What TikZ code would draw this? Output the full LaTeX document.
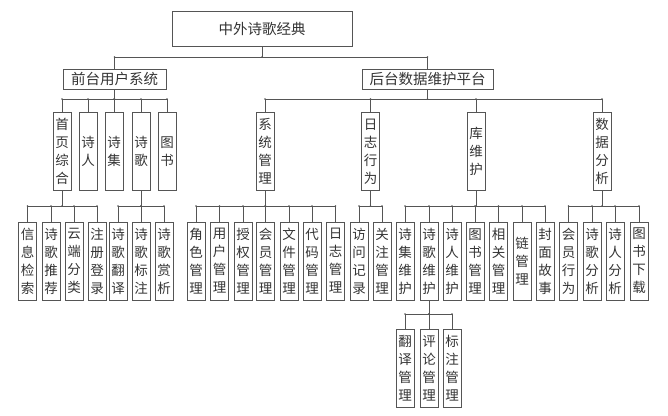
\documentclass[tikz,border=0pt]{standalone}
\usepackage{fontspec}
\newfontfamily\cjk{Noto Sans CJK SC}
\definecolor{ln}{HTML}{555555}
\definecolor{tx}{HTML}{333333}
\tikzset{
  bx/.style={draw=ln, line width=0.6pt, inner sep=0pt, text=tx, align=center},
  topbox/.style={bx, font=\cjk\fontsize{14.5}{17}\selectfont},
  vbox/.style={bx, minimum width=18pt, minimum height=78pt, font=\cjk\fontsize{13.5}{18}\selectfont},
  conn/.style={draw=ln, line width=0.6pt},
}
\newcommand\busline[5]{%
  \coordinate (busy) at (0,#2);
  \draw[conn] (#1.south) -- (#1.south |- busy);
  \fill[ln] (#1.south |- busy) circle (0.9pt);
  \draw[conn] (#3.north |- busy) -- (#4.north |- busy);
  \foreach \c in {#5} {
    \draw[conn] (\c.north) -- (\c.north |- busy);
    \fill[ln] (\c.north |- busy) circle (0.9pt);
  }%
}
\begin{document}
\begin{tikzpicture}[x=1pt,y=-1pt]
\useasboundingbox (0,0) rectangle (668,415);
% root
\node[topbox, minimum width=180pt, minimum height=35pt] (root) at (262,28.5) {中外诗歌经典};
\node[topbox, minimum width=103pt, minimum height=20pt] (fq) at (114.5,79) {前台用户系统};
\node[topbox, minimum width=131pt, minimum height=20pt] (ht) at (427.5,79) {后台数据维护平台};
% level 2
\node[vbox] (sy) at (62,151.5) {首\\页\\综\\合};
\node[vbox] (sr) at (88,151.5) {诗\\人};
\node[vbox] (sj) at (114,151.5) {诗\\集};
\node[vbox] (sg) at (141,151.5) {诗\\歌};
\node[vbox] (ts) at (167,151.5) {图\\书};
\node[vbox] (xt) at (265,151.5) {系\\统\\管\\理};
\node[vbox] (rz) at (370.5,151.5) {日\\志\\行\\为};
\node[vbox] (kw) at (476,151.5) {库\\维\\护};
\node[vbox] (sf) at (602,151.5) {数\\据\\分\\析};
% level 3
\node[vbox] (a1) at (27.5,261) {信\\息\\检\\索};
\node[vbox] (a2) at (51,261) {诗\\歌\\推\\荐};
\node[vbox] (a3) at (74,261) {云\\端\\分\\类};
\node[vbox] (a4) at (97,261) {注\\册\\登\\录};
\node[vbox] (b1) at (118,261) {诗\\歌\\翻\\译};
\node[vbox] (b2) at (141,261) {诗\\歌\\标\\注};
\node[vbox] (b3) at (164,261) {诗\\歌\\赏\\析};
\node[vbox] (c1) at (196,261) {角\\色\\管\\理};
\node[vbox] (c2) at (219.5,261) {用\\户\\管\\理};
\node[vbox] (c3) at (243,261) {授\\权\\管\\理};
\node[vbox] (c4) at (265.5,261) {会\\员\\管\\理};
\node[vbox] (c5) at (289,261) {文\\件\\管\\理};
\node[vbox] (c6) at (312,261) {代\\码\\管\\理};
\node[vbox] (c7) at (335.5,261) {日\\志\\管\\理};
\node[vbox] (d1) at (359,261) {访\\问\\记\\录};
\node[vbox] (d2) at (382,261) {关\\注\\管\\理};
\node[vbox] (e1) at (405,261) {诗\\集\\维\\护};
\node[vbox] (e2) at (429,261) {诗\\歌\\维\\护};
\node[vbox] (e3) at (452,261) {诗\\人\\维\\护};
\node[vbox] (e4) at (475,261) {图\\书\\管\\理};
\node[vbox] (e5) at (498.5,261) {相\\关\\管\\理};
\node[vbox] (e6) at (522,261) {链\\管\\理};
\node[vbox] (e7) at (545,261) {封\\面\\故\\事};
\node[vbox] (f1) at (568.5,261) {会\\员\\行\\为};
\node[vbox] (f2) at (592,261) {诗\\歌\\分\\析};
\node[vbox] (f3) at (615,261) {诗\\人\\分\\析};
\node[vbox] (f4) at (639,261) {图\\书\\下\\载};
% level 4
\node[vbox] (g1) at (405,368) {翻\\译\\管\\理};
\node[vbox] (g2) at (429,368) {评\\论\\管\\理};
\node[vbox] (g3) at (452,368) {标\\注\\管\\理};
% connectors
\busline{root}{57}{fq}{ht}{fq,ht}
\busline{fq}{99}{sy}{ts}{sy,sr,sj,sg,ts}
\busline{ht}{99}{xt}{sf}{xt,rz,kw,sf}
\busline{sy}{206}{a1}{a4}{a1,a2,a3,a4}
\busline{sg}{206}{b1}{b3}{b1,b2,b3}
\busline{xt}{206}{c1}{c7}{c1,c2,c3,c4,c5,c6,c7}
\busline{rz}{206}{d1}{d2}{d1,d2}
\busline{kw}{206}{e1}{e7}{e1,e2,e3,e4,e5,e6,e7}
\busline{sf}{206}{f1}{f4}{f1,f2,f3,f4}
\busline{e2}{314}{g1}{g3}{g1,g2,g3}
\end{tikzpicture}
\end{document}
